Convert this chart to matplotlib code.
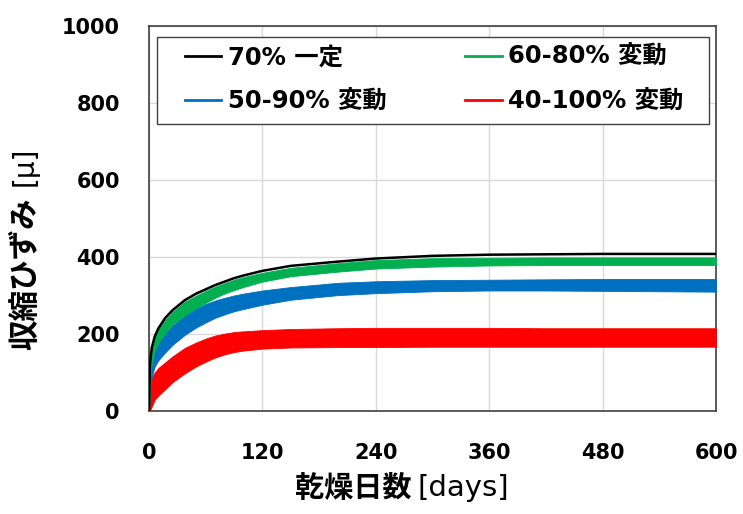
import matplotlib
matplotlib.use("Agg")
import matplotlib.pyplot as plt
from matplotlib.patches import Rectangle
from matplotlib.lines import Line2D

# Drying time [days]
days = [0, 1, 2, 3, 6, 10, 17, 25, 38, 50, 60, 70, 80, 90, 100, 120, 150,
        200, 240, 300, 360, 420, 480, 540, 600]

# Shrinkage strain [μ] under constant 70% RH
rh70_const = [0, 120, 145, 165, 193, 215, 241, 262, 288, 305, 316, 327, 336,
              345, 352, 364, 377, 388, 396, 403, 406, 407, 408, 408, 408]

# Cyclic RH cases: envelope of the daily oscillation (upper / lower)
rh60_80_upper = [0, 115, 140, 160, 190, 212, 236, 258, 284, 300, 312, 323, 332,
                 341, 348, 359, 372, 384, 392, 397, 398, 399, 399, 399, 399]
rh60_80_lower = [0, 80, 105, 125, 158, 178, 202, 225, 249, 268, 281, 294, 305,
                 314, 322, 336, 350, 362, 370, 375, 378, 379, 379, 379, 379]

rh50_90_upper = [0, 80, 105, 125, 158, 178, 202, 222, 249, 267, 278, 287, 294,
                 300, 305, 313, 322, 333, 337, 340, 341, 342, 343, 343, 343]
rh50_90_lower = [0, 55, 75, 90, 115, 132, 152, 172, 198, 217, 230, 242, 251,
                 259, 265, 276, 289, 301, 306, 311, 313, 313, 312, 311, 310]

rh40_100_upper = [0, 65, 80, 88, 100, 112, 126, 142, 164, 178, 188, 196, 201,
                  205, 207, 210, 213, 215, 216, 216, 216, 215, 215, 215, 215]
rh40_100_lower = [0, 3, 6, 12, 29, 40, 56, 75, 98, 116, 128, 139, 147,
                  153, 157, 162, 165, 166, 166, 167, 167, 167, 167, 167, 167]

labels = ["70% 一定", "60-80% 変動", "50-90% 変動", "40-100% 変動"]
colors = ["#000000", "#00b050", "#0070c0", "#ff0000"]

x_ticks = [0, 120, 240, 360, 480, 600]
y_ticks = [0, 200, 400, 600, 800, 1000]

LATIN_CJK = ["DejaVu Sans", "Noto Sans CJK JP"]
plt.rcParams["font.family"] = LATIN_CJK

fig = plt.figure(figsize=(7.43, 5.14), dpi=100)
ax = fig.add_axes([149 / 743, 103 / 514, 567 / 743, 385 / 514])

# bands for the cyclic cases, drawn from the lowest upwards
bands = [(rh40_100_lower, rh40_100_upper, colors[3]),
         (rh50_90_lower, rh50_90_upper, colors[2]),
         (rh60_80_lower, rh60_80_upper, colors[1])]
for lo, hi, c in bands:
    ax.fill_between(days, lo, hi, color=c, lw=0.6, edgecolor=c, zorder=3)

ax.plot(days, rh70_const, color=colors[0], lw=1.8, zorder=4)

ax.set_xlim(0, 600)
ax.set_ylim(0, 1000)
ax.set_xticks(x_ticks)
ax.set_yticks(y_ticks)
ax.grid(True, color="#d9d9d9", lw=1.0, zorder=0)
ax.set_axisbelow(True)
for s in ax.spines.values():
    s.set_color("#404040")
    s.set_linewidth(1.2)
ax.tick_params(length=0, labelsize=15)
ax.tick_params(axis="y", pad=21)
ax.tick_params(axis="x", pad=23)
for t in ax.get_xticklabels() + ax.get_yticklabels():
    t.set_fontweight("bold")

# legend box
ax.add_patch(Rectangle((8 / 567, (411 - 124) / 385), 552 / 567, 87 / 385,
                       transform=ax.transAxes, facecolor="white",
                       edgecolor="#404040", lw=1.0, zorder=5))
handles = [Line2D([], [], color=c, lw=2.0) for c in colors]
order = [0, 2, 1, 3]
leg = ax.legend([handles[i] for i in order], [labels[i] for i in order],
                ncol=2, loc="center left", mode="expand",
                bbox_to_anchor=((185 - 149) / 567, (411 - 123) / 385,
                                (683 - 185) / 567, 87 / 385),
                frameon=False, borderpad=0.0, borderaxespad=0.0,
                handlelength=1.5, handletextpad=0.25, labelspacing=0.85,
                prop=dict(family=LATIN_CJK, weight="bold", size=17.5))
leg.set_zorder(6)

# axis titles: bold Japanese part followed by a plain unit
fig.text(412 / 743, 1 - 488 / 514, "乾燥日数", ha="right", va="center",
         fontsize=21, fontweight="bold", family="Noto Sans CJK JP")
fig.text(418 / 743, 1 - 488 / 514, "[days]", ha="left", va="center",
         fontsize=21, family="DejaVu Sans")
fig.text(25 / 743, 1 - 350 / 514, "収縮ひずみ", ha="center", va="bottom",
         rotation=90, fontsize=22, fontweight="bold", family="Noto Sans CJK JP")
fig.text(25 / 743, 1 - 186 / 514, "[μ]", ha="center", va="bottom",
         rotation=90, fontsize=20, family="DejaVu Sans")

fig.savefig("out.png", dpi=100, facecolor="white")
